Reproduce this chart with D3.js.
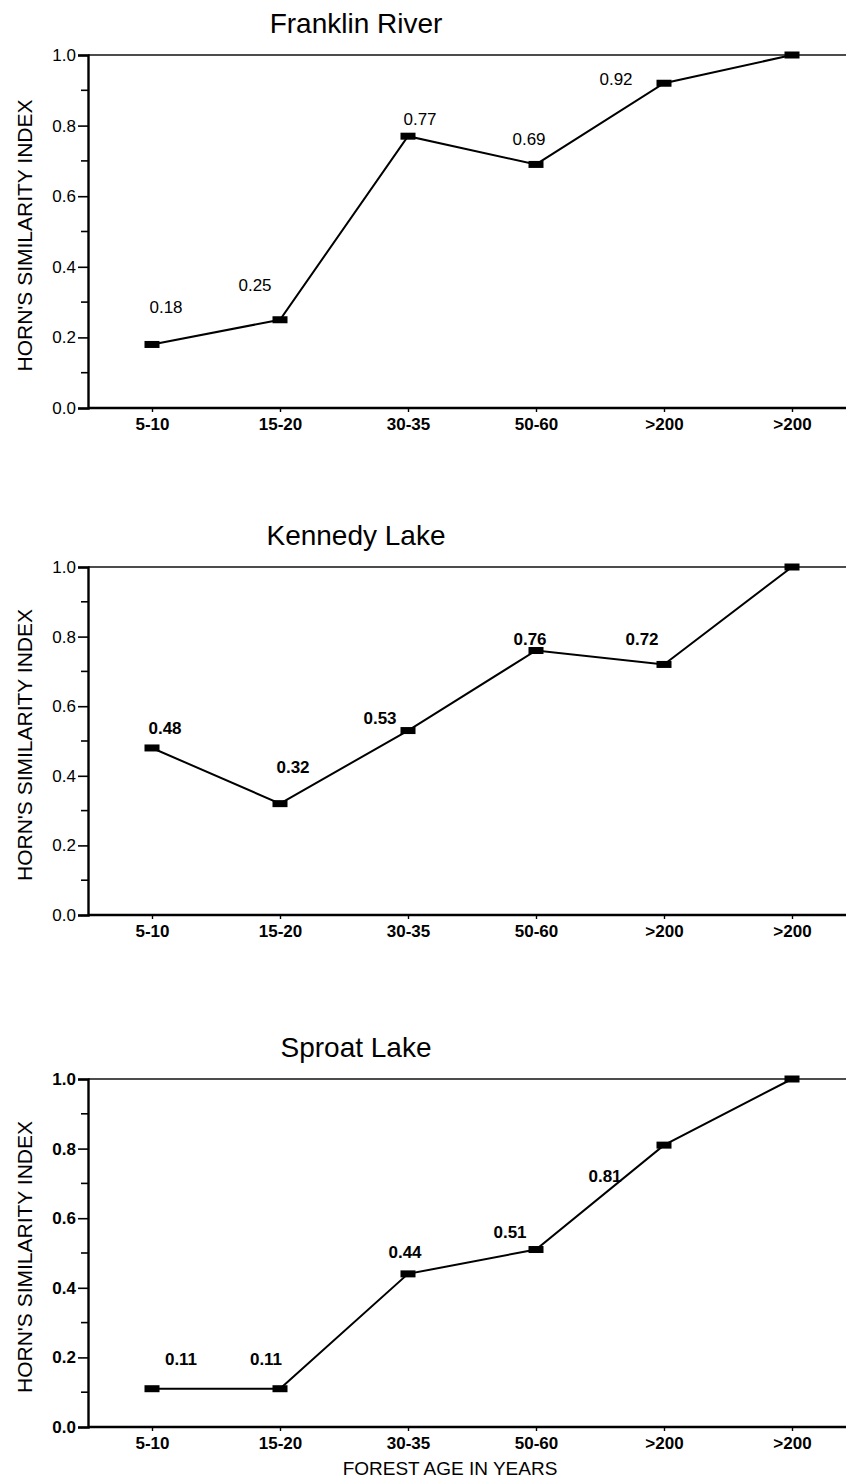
<!DOCTYPE html>
<html>
<head>
<meta charset="utf-8">
<script src="https://cdn.jsdelivr.net/npm/d3@7"></script>
<style>
  body { margin: 0; background: #fff; }
  svg { display: block; font-family: "Liberation Sans", Arial, Helvetica, sans-serif; }
</style>
</head>
<body>
<svg id="chart"></svg>
<script>
const width = 846;
const height = 1482;

// data
const ageClasses = ["5-10", "15-20", "30-35", "50-60", ">200", ">200"];
const siteNames = ["Franklin River", "Kennedy Lake", "Sproat Lake"];
const franklinValues = [0.18, 0.25, 0.77, 0.69, 0.92, 1.0];
const kennedyValues = [0.48, 0.32, 0.53, 0.76, 0.72, 1.0];
const sproatValues = [0.11, 0.11, 0.44, 0.51, 0.81, 1.0];
const yTicks = [0, 0.2, 0.4, 0.6, 0.8, 1.0];
const yMinorTicks = [0.1, 0.3, 0.5, 0.7, 0.9];

const siteValues = [franklinValues, kennedyValues, sproatValues];

// layout of each panel (y of 1.0 line and y of 0.0 axis)
const panels = [
    { top: 55, bottom: 408, labelWeight: "normal", tickWeight: "normal" },
    { top: 567, bottom: 915, labelWeight: "bold", tickWeight: "normal" },
    { top: 1079, bottom: 1427, labelWeight: "bold", tickWeight: "bold" }
];

// where each value label sits relative to its marker
const labelNudge = [
    [[14, -31], [-25, -29], [12, -11], [-7, -19], [-48, 2]],
    [[13, -14], [13, -31], [-28, -7], [-6, -6], [-22, -19]],
    [[29, -24], [-14, -24], [-3, -16], [-26, -12], [-59, 37]]
];

const axisLeft = 88;
const fmt = d3.format(".2f");
const tickFmt = d3.format(".1f");

const svg = d3.select("#chart")
    .attr("width", width)
    .attr("height", height);

const x = d3.scalePoint()
    .domain(d3.range(ageClasses.length))
    .range([152, 792]);

panels.forEach((p, i) => {
    const values = siteValues[i];
    const y = d3.scaleLinear().domain([0, 1]).range([p.bottom, p.top]);
    const g = svg.append("g");

    // title
    g.append("text")
        .attr("x", 356)
        .attr("y", p.top - 22)
        .attr("text-anchor", "middle")
        .style("font-size", "28px")
        .text(siteNames[i]);

    // y label
    g.append("text")
        .attr("transform", `translate(32, ${(p.top + p.bottom) / 2 + 4}) rotate(-90)`)
        .attr("text-anchor", "middle")
        .style("font-size", "21px")
        .text("HORN'S SIMILARITY INDEX");

    // top reference line at 1.0
    g.append("line")
        .attr("x1", axisLeft).attr("x2", width)
        .attr("y1", y(1)).attr("y2", y(1))
        .attr("stroke", "#111").attr("stroke-width", 1.6);

    // y axis (major ticks)
    const yAxis = g.append("g")
        .attr("transform", `translate(${axisLeft},0)`)
        .call(d3.axisLeft(y).tickValues(yTicks).tickFormat(tickFmt).tickSize(10).tickPadding(2));
    yAxis.select(".domain").attr("stroke", "#000").attr("stroke-width", 2.4);
    yAxis.selectAll(".tick line").attr("stroke", "#000").attr("stroke-width", 1.6);
    yAxis.selectAll(".tick text")
        .style("font-size", "17px")
        .style("font-weight", p.tickWeight)
        .attr("fill", "#000")
        .attr("font-family", null);

    // minor ticks
    g.selectAll(".minor")
        .data(yMinorTicks)
        .join("line")
        .attr("x1", axisLeft - 7).attr("x2", axisLeft)
        .attr("y1", d => y(d)).attr("y2", d => y(d))
        .attr("stroke", "#000").attr("stroke-width", 1.6);

    // x axis
    const xAxis = g.append("g")
        .attr("transform", `translate(0,${p.bottom})`)
        .call(d3.axisBottom(x).tickFormat(k => ageClasses[k]).tickSize(4).tickPadding(6));
    xAxis.select(".domain").remove();
    xAxis.append("line")
        .attr("x1", axisLeft).attr("x2", width)
        .attr("stroke", "#000").attr("stroke-width", 2.4);
    xAxis.selectAll(".tick line").attr("stroke", "#000").attr("stroke-width", 1.4);
    xAxis.selectAll(".tick text")
        .style("font-size", "17px")
        .style("font-weight", "bold")
        .attr("fill", "#000")
        .attr("font-family", null);

    // data line
    const line = d3.line()
        .x((d, k) => x(k))
        .y(d => y(d));

    g.append("path")
        .datum(values)
        .attr("d", line)
        .attr("fill", "none")
        .attr("stroke", "#000")
        .attr("stroke-width", 2);

    // markers
    g.selectAll(".marker")
        .data(values)
        .join("rect")
        .attr("class", "marker")
        .attr("x", (d, k) => x(k) - 7.5)
        .attr("y", d => y(d) - 3.5)
        .attr("width", 15)
        .attr("height", 7)
        .attr("fill", "#000");

    // value labels (not on the last point)
    g.selectAll(".val")
        .data(values.slice(0, values.length - 1))
        .join("text")
        .attr("class", "val")
        .attr("x", (d, k) => x(k) + labelNudge[i][k][0])
        .attr("y", (d, k) => y(d) + labelNudge[i][k][1])
        .attr("text-anchor", "middle")
        .style("font-size", "17px")
        .style("font-weight", p.labelWeight)
        .text(d => fmt(d));
});

// x label
svg.append("text")
    .attr("x", 450)
    .attr("y", 1475)
    .attr("text-anchor", "middle")
    .style("font-size", "19px")
    .text("FOREST AGE IN YEARS");
</script>
</body>
</html>
